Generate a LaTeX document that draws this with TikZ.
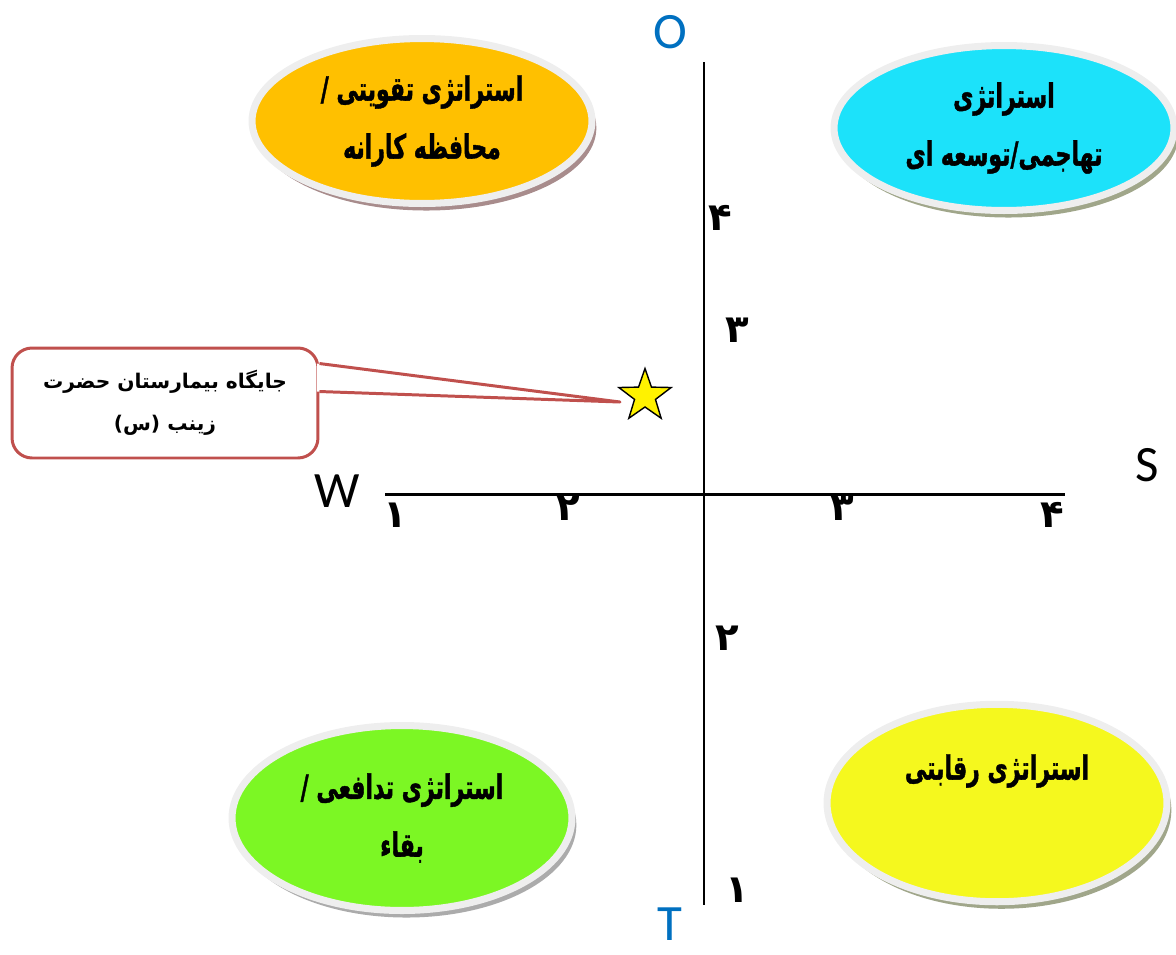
\documentclass[tikz,border=0pt]{standalone}
\usepackage{fontspec}
\usetikzlibrary{positioning,calc,shapes.geometric,shadows}
\TeXXeTstate=1
\newfontfamily\farsifont[Script=Arabic]{DejaVu Sans}
\newfontfamily\farsinarrow[Script=Arabic,FakeStretch=0.66,FakeBold=1.2]{DejaVu Sans Bold}
\newfontfamily\latinfont{Carlito}
\newcommand{\rtltext}[1]{\beginR#1\endR}
\definecolor{stratorange}{HTML}{FFC000}
\definecolor{stratcyan}{HTML}{1CE2FA}
\definecolor{stratgreen}{HTML}{7CF724}
\definecolor{stratyellow}{HTML}{F5F81E}
\definecolor{rimgray}{HTML}{EEEEEE}
\definecolor{shadowrose}{HTML}{A88C8C}
\definecolor{shadowolive}{HTML}{A0A68A}
\definecolor{shadowgray}{HTML}{ABABAB}
\definecolor{calloutred}{HTML}{C0504D}
\definecolor{axisblue}{HTML}{0070C0}
\tikzset{
  strat/.style={ellipse,draw=rimgray,line width=4pt,minimum width=6.8cm,
    minimum height=3.3cm,inner sep=0pt,align=center,
    font=\farsinarrow\fontsize{19}{33}\selectfont},
  strattext/.style={inner sep=0pt,align=center,
    font=\farsinarrow\fontsize{19}{33}\selectfont},
  stratshadow/.style={drop shadow={shadow xshift=2.5pt,shadow yshift=-4pt,
    fill=#1,opacity=1}},
  axisline/.style={line width=1.7pt,black},
  axislbl/.style={font=\latinfont\fontsize{29}{34}\selectfont,inner sep=0pt},
  num/.style={font=\farsifont\bfseries\fontsize{22}{24}\selectfont,inner sep=0pt},
  calloutbox/.style={draw=calloutred,line width=1.7pt,fill=white,
    rounded corners=0.4cm,minimum width=6.12cm,minimum height=2.2cm,
    align=center,font=\farsifont\bfseries\fontsize{11.5}{24}\selectfont},
  calloutline/.style={draw=calloutred,line width=1.7pt,line join=round},
  marker/.style={star,star points=5,star point ratio=2.5,minimum size=1.1cm,
    inner sep=0pt,fill=yellow,draw=black,line width=0.8pt},
}
\begin{document}
\begin{tikzpicture}[x=0.02cm,y=-0.02cm]
  \useasboundingbox (0,0) rectangle (1176,954);
  \coordinate (xl) at (385,494);
  \coordinate (xr) at (1065,494);
  \coordinate (yt) at (704,62);
  \coordinate (yb) at (704,905);
  \draw[axisline] (xl) -- (xr);
  \draw[axisline,line width=1.4pt] (yt) -- (yb);
  \node[strat,fill=stratorange,stratshadow=shadowrose] (defensive) at (422,121)
    {\rtltext{استراتژی تقویتی /}\\\rtltext{محافظه کارانه}};
  \node[strat,fill=stratcyan,stratshadow=shadowolive] (aggressive) at (1004,128)
    {\rtltext{استراتژی}\\\rtltext{تهاجمی/توسعه ای}};
  \node[strat,fill=stratgreen,stratshadow=shadowgray,minimum height=3.7cm]
    (survival) at (402,818) {\rtltext{استراتژی تدافعی /}\\\rtltext{بقاء}};
  \node[strat,fill=stratyellow,stratshadow=shadowolive,minimum height=3.95cm]
    (competitive) at (997,803) {};
  \node[strattext] (competitivetxt) at ($(competitive.center)+(0,-32)$)
    {\rtltext{استراتژی رقابتی}};
  \node[axislbl,text=axisblue] (o) at (670,32) {O};
  \node[axislbl,text=axisblue] (t) at (670,924) {T};
  \node[axislbl] (w) at (337,491) {W};
  \node[axislbl] (s) at (1147,465) {S};
  \node[num] (x1) at (395,515) {۱};
  \node[num] (x2) at (568,508) {۲};
  \node[num] (x3) at (842,508) {۳};
  \node[num] (x4) at (1052,515) {۴};
  \node[num] (y4) at (720,218) {۴};
  \node[num] (y3) at (737,330) {۳};
  \node[num] (y2) at (727,638) {۲};
  \node[num] (y1) at (737,890) {۱};
  \node[marker] (hospital) at (645,396) {};
  \coordinate (tip) at (620,402);
  \node[calloutbox] (callout) at (165,403)
    {\rtltext{جایگاه بیمارستان حضرت}\\\rtltext{زینب (س)}};
  \fill[white] ($(callout.north east)+(-2.5,17)$) -- (tip)
    -- ($(callout.north east)+(-2.5,45)$) -- cycle;
  \draw[calloutline] ($(callout.north east)+(0,17)$) -- (tip)
    -- ($(callout.north east)+(0,45)$);
\end{tikzpicture}
\end{document}
